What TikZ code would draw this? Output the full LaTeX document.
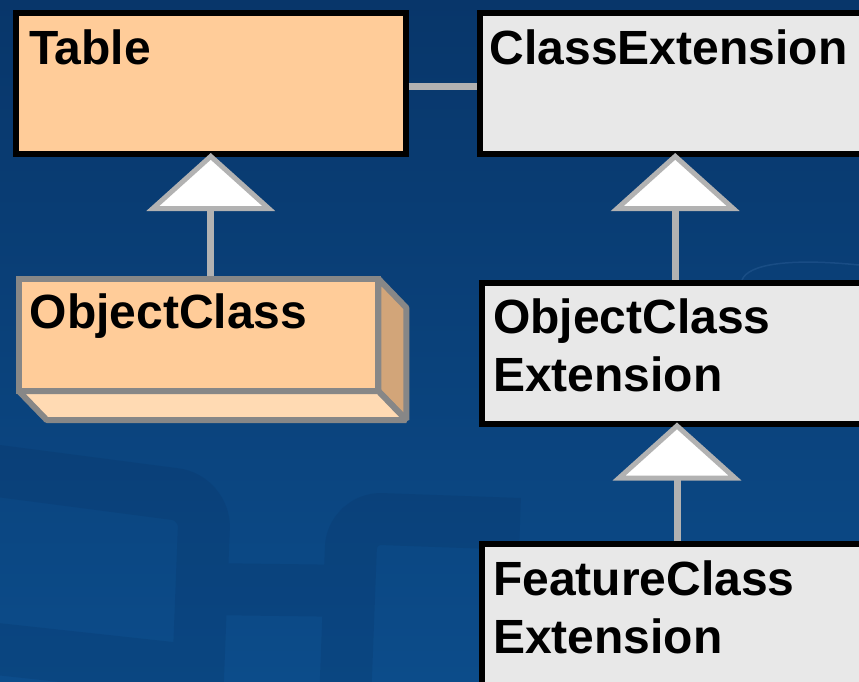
\documentclass[tikz,border=0pt]{standalone}
\usepackage{fontspec}
\setmainfont{Liberation Sans}
\usetikzlibrary{arrows.meta}

\definecolor{navytop}{HTML}{08366A}
\definecolor{navybot}{HTML}{0C4C8A}
\definecolor{navyband}{HTML}{062F60}
\definecolor{navyglint}{HTML}{3C6FA8}
\definecolor{peach}{HTML}{FFCC99}
\definecolor{peachside}{HTML}{D2A579}
\definecolor{peachbottom}{HTML}{FFDAB3}
\definecolor{paleface}{HTML}{E8E8E8}
\definecolor{linkgray}{HTML}{B2B2B2}
\definecolor{edgegray}{HTML}{878787}

\begin{document}
\begin{tikzpicture}[x=1pt,y=-1pt,
  classbox/.style={rectangle, draw=black, line width=6pt, fill=paleface, inner sep=0pt},
  tablebox/.style={classbox, fill=peach},
  frontface/.style={rectangle, draw=edgegray, line width=6pt, fill=peach, inner sep=0pt},
  sideface/.style={draw=edgegray, line width=6pt, line join=bevel},
  title/.style={anchor=base west, inner sep=0pt, font=\bfseries\fontsize{48}{58}\selectfont, text=black},
  link/.style={draw=linkgray, line width=7pt},
  inherits/.style={link, shorten >=-4pt, -{Triangle[length=58pt, width=128pt, fill=white, line width=5pt]}},
  texture/.style={draw=navyband, line width=52pt, rounded corners=30pt}
]
\useasboundingbox (0,0) rectangle (859,682);
\clip (0,0) rectangle (859,682);

% backdrop with faint interlocking bands
\shade[top color=navytop, bottom color=navybot] (0,0) rectangle (859,682);
\begin{scope}[transparency group, opacity=0.2]
  \draw[texture] (-40,466) -- (205,498) -- (196,730);
  \draw[texture] (-40,645) -- (190,670);
  \draw[texture] (205,589) -- (355,591);
  \draw[texture] (520,524) -- (352,518) -- (344,730);
\end{scope}
\draw[draw=navyglint, opacity=0.3, line width=1.5pt]
  (742,280) .. controls (748,264) and (790,258) .. (859,265);

% extruded faces of the ObjectClass box
\coordinate (ocTL) at (18.7,278.7);
\coordinate (ocBR) at (378.3,391);
\filldraw[sideface, fill=peachside]
  (ocBR |- ocTL) -- ++(28,29) -- ([shift={(28,29)}]ocBR) -- (ocBR) -- cycle;
\filldraw[sideface, fill=peachbottom]
  (ocTL |- ocBR) -- ++(28,29) -- ([shift={(28,29)}]ocBR) -- (ocBR) -- cycle;

% class boxes
\node[tablebox, minimum width=389.5pt, minimum height=141pt] (table) at (210.75,83.5) {};
\node[classbox, minimum width=391pt, minimum height=141pt] (cext) at (675.2,83.5) {};
\node[frontface, minimum width=359.6pt, minimum height=112.3pt] (objclass) at (198.5,334.85) {};
\node[classbox, minimum width=390pt, minimum height=141pt] (ocext) at (677,353) {};
\node[classbox, minimum width=390pt, minimum height=160pt] (fcext) at (677,624) {};

% titles
\node[title] (tableT) at ([shift={(16,55)}]table.north west) {Table};
\node[title] (cextT) at ([shift={(13,55)}]cext.north west) {ClassExtension};
\node[title] (objclassT) at ([shift={(14,52.3)}]objclass.north west) {ObjectClass};
\node[title] (ocextT) at ([shift={(14,53.8)}]ocext.north west)
  {\begin{tabular}[t]{@{}l@{}}ObjectClass\\Extension\end{tabular}};
\node[title] (fcextT) at ([shift={(14,54)}]fcext.north west)
  {\begin{tabular}[t]{@{}l@{}}FeatureClass\\Extension\end{tabular}};

% association and generalisations
\draw[link] ([yshift=-3.5pt]table.east) -- ([yshift=-3.5pt]cext.west);
\draw[inherits] (objclass.north -| table.south) -- (table.south);
\draw[inherits] (ocext.north -| cext.south) -- (cext.south);
\draw[inherits] (fcext.north) -- (ocext.south);
\end{tikzpicture}
\end{document}
